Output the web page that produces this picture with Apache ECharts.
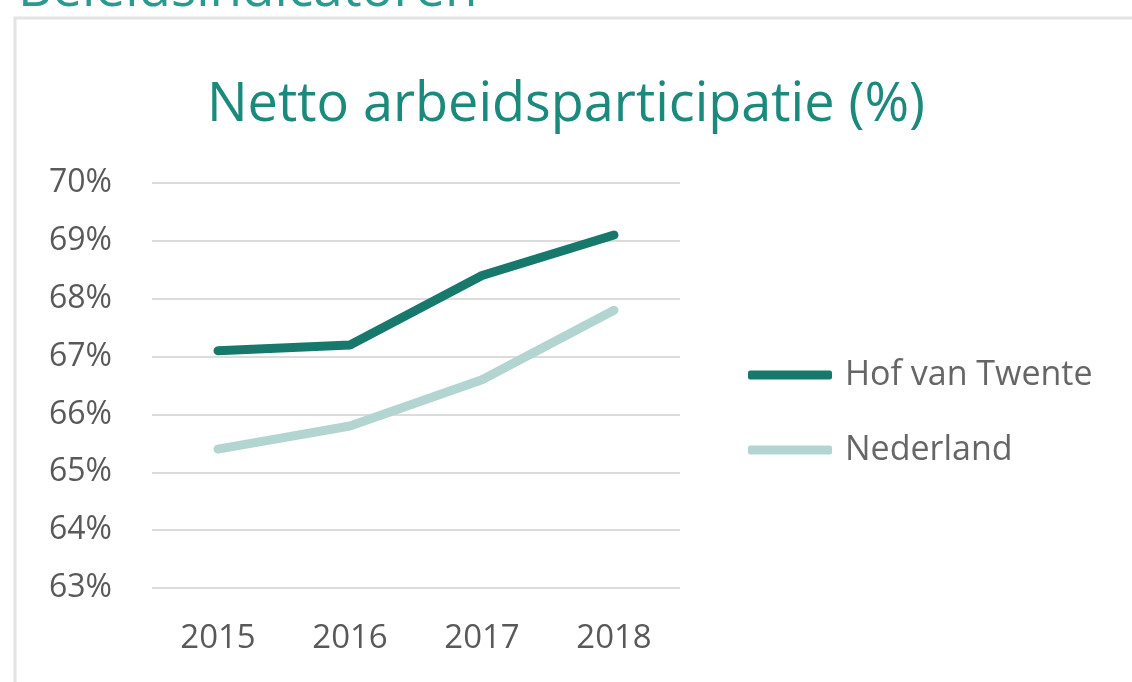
<!DOCTYPE html>
<html>
<head>
<meta charset="utf-8">
<script src="https://cdn.jsdelivr.net/npm/echarts@6/dist/echarts.min.js"></script>
<style>
  html, body { margin: 0; padding: 0; background: #fff; }
  #chart { width: 1132px; height: 682px; }
</style>
</head>
<body>
<div id="chart"></div>
<script>
const years = ['2015', '2016', '2017', '2018'];
const hofVanTwente = [67.1, 67.2, 68.4, 69.1];
const nederland = [65.4, 65.8, 66.6, 67.8];
const seriesNames = ['Hof van Twente', 'Nederland'];

const teal = '#16796b';
const lightTeal = '#b3d5d2';
const font = '"Open Sans", sans-serif';

const chart = echarts.init(document.getElementById('chart'));
chart.setOption({
  animation: false,
  graphic: [
    {
      // page heading, cut off at the top of the screenshot
      type: 'text', left: 18, top: -36,
      style: { text: 'Beleidsindicatoren', fill: '#2a9a8e', font: '53px ' + font }
    },
    {
      type: 'rect', shape: { x: 15, y: 18, width: 1300, height: 800 },
      style: { fill: 'none', stroke: '#e4e4e4', lineWidth: 3 }
    }
  ],
  title: {
    text: 'Netto arbeidsparticipatie (%)',
    left: 561, top: 74, textAlign: 'center',
    textStyle: { color: '#1b8a7d', fontFamily: font, fontSize: 54, fontWeight: 'normal' }
  },
  legend: {
    orient: 'vertical',
    left: 748, top: 358, padding: 0,
    itemWidth: 84, itemHeight: 9, itemGap: 41,
    icon: 'roundRect',
    data: seriesNames,
    textStyle: { color: '#666', fontFamily: font, fontSize: 34, padding: [0, 0, 0, 8] }
  },
  grid: { left: 152, right: 452, top: 183, bottom: 94 },
  xAxis: {
    type: 'category',
    data: years,
    axisLine: { show: false },
    axisTick: { show: false },
    axisLabel: { color: '#595959', fontFamily: font, fontSize: 33, margin: 34 }
  },
  yAxis: {
    type: 'value',
    min: 63, max: 70, interval: 1,
    axisLine: { show: false },
    axisTick: { show: false },
    splitLine: { lineStyle: { color: '#dcdcdc', width: 2 } },
    axisLabel: { color: '#595959', fontFamily: font, fontSize: 32, margin: 40, formatter: '{value}%' }
  },
  series: [
    {
      name: seriesNames[0], type: 'line', data: hofVanTwente,
      symbol: 'none', color: teal,
      lineStyle: { width: 9, color: teal, cap: 'round', join: 'round' }
    },
    {
      name: seriesNames[1], type: 'line', data: nederland,
      symbol: 'none', color: lightTeal,
      lineStyle: { width: 9, color: lightTeal, cap: 'round', join: 'round' }
    }
  ]
});
</script>
</body>
</html>
